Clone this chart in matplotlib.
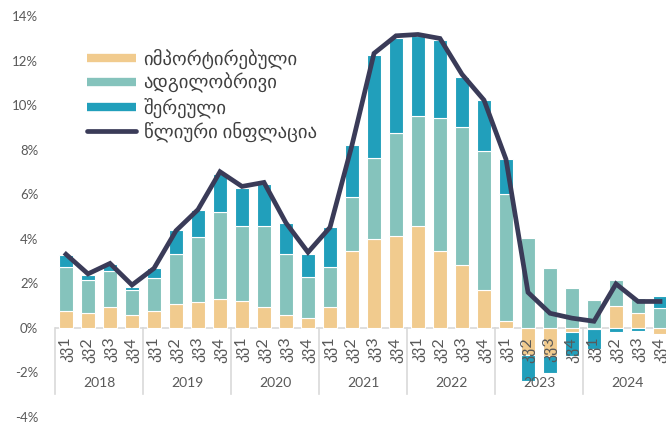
import numpy as np
import matplotlib.pyplot as plt
from matplotlib.lines import Line2D

plt.rcParams['font.family'] = ['Lato', 'DejaVu Sans']

years = ['2018', '2019', '2020', '2021', '2022', '2023', '2024']
quarters = ['კვ1', 'კვ2', 'კვ3', 'კვ4']

# წვლილი წლიურ ინფლაციაში, %
imported = [0.73, 0.66, 0.93, 0.57, 0.72, 1.06, 1.14, 1.29,
            1.17, 0.90, 0.58, 0.43, 0.94, 3.42, 3.96, 4.11,
            4.57, 3.42, 2.79, 1.69, 0.30, -1.23, -1.27, -0.21,
            -0.05, 0.97, 0.64, -0.28]
domestic = [1.97, 1.48, 1.63, 1.13, 1.51, 2.24, 2.93, 3.90,
            3.39, 3.66, 2.72, 1.84, 1.79, 2.45, 3.68, 4.62,
            4.92, 5.98, 6.22, 6.23, 5.72, 4.04, 2.69, 1.76,
            1.24, 1.17, 0.67, 0.87]
mixed = [0.56, 0.21, 0.30, 0.14, 0.46, 1.06, 1.19, 1.73,
         1.69, 1.91, 1.39, 1.03, 1.77, 2.34, 4.62, 4.29,
         3.60, 3.51, 2.25, 2.32, 1.57, -1.19, -0.78, -1.09,
         -0.90, -0.21, -0.17, 0.56]
inflation = [3.29, 2.41, 2.88, 1.91, 2.66, 4.35, 5.30, 7.00,
             6.34, 6.52, 4.70, 3.38, 4.50, 8.20, 12.32, 13.11,
             13.17, 12.99, 11.38, 10.22, 7.56, 1.58, 0.64, 0.42,
             0.28, 1.96, 1.17, 1.17]

labels = ['იმპორტირებული', 'ადგილობრივი', 'შერეული', 'წლიური ინფლაცია']
colors = ['#F1CB8E', '#85C3BC', '#219FBB', '#3A3B58']

fig = plt.figure(figsize=(6.66, 4.23), dpi=100)
ax = fig.add_axes([55/666, 1-416.5/423, 616/666, (416.5-16)/423])

x = np.arange(len(inflation))
pos = np.zeros(len(x))
neg = np.zeros(len(x))
for vals, col in zip([imported, domestic, mixed], colors[:3]):
    v = np.array(vals)
    bottom = np.where(v >= 0, pos, neg)
    ax.bar(x, v, 0.62, bottom=bottom, color=col, edgecolor='white', linewidth=0.8, zorder=2)
    pos = pos + np.where(v >= 0, v, 0)
    neg = neg + np.where(v < 0, v, 0)

ax.plot(x, inflation, color=colors[3], lw=3.4, solid_joinstyle='miter', zorder=3)

ax.set_xlim(-0.5, len(x)-0.5)
ax.set_ylim(-4, 14)
ax.set_yticks(np.arange(-4, 15, 2))
ax.set_yticklabels([f'{t}%' for t in range(-4, 15, 2)])
ax.tick_params(axis='y', length=0, labelsize=9.5, labelcolor='#595959', pad=12)
ax.set_xticks([])
for s in ax.spines.values():
    s.set_visible(False)

# ჰორიზონტალური ღერძი და კატეგორიები
ax.axhline(0, color='#D9D9D9', lw=1.2, zorder=1)
for i in range(len(x)):
    ax.text(i, -0.42, quarters[i % 4], rotation=90, ha='center', va='top',
            fontsize=11.5, color='#595959', zorder=4)
for k, yr in enumerate(years):
    ax.text(4*k + 1.5, -2.5, yr, ha='center', va='center', fontsize=10, color='#595959', zorder=4)
for k in range(len(years) + 1):
    ax.plot([4*k - 0.5]*2, [0, -2.98], color='#D9D9D9', lw=1.2, clip_on=False, zorder=1)

handles = [Line2D([], [], color=c, lw=6, solid_capstyle='butt') for c in colors[:3]]
handles.append(Line2D([], [], color=colors[3], lw=3.4, solid_capstyle='round'))
ax.legend(handles, labels, loc='upper left', bbox_to_anchor=(0.025, 0.962), frameon=False,
          fontsize=13.5, handlelength=2.6, handletextpad=0.4, labelspacing=0.22,
          labelcolor='#404040')

fig.savefig('out.png', dpi=100)
